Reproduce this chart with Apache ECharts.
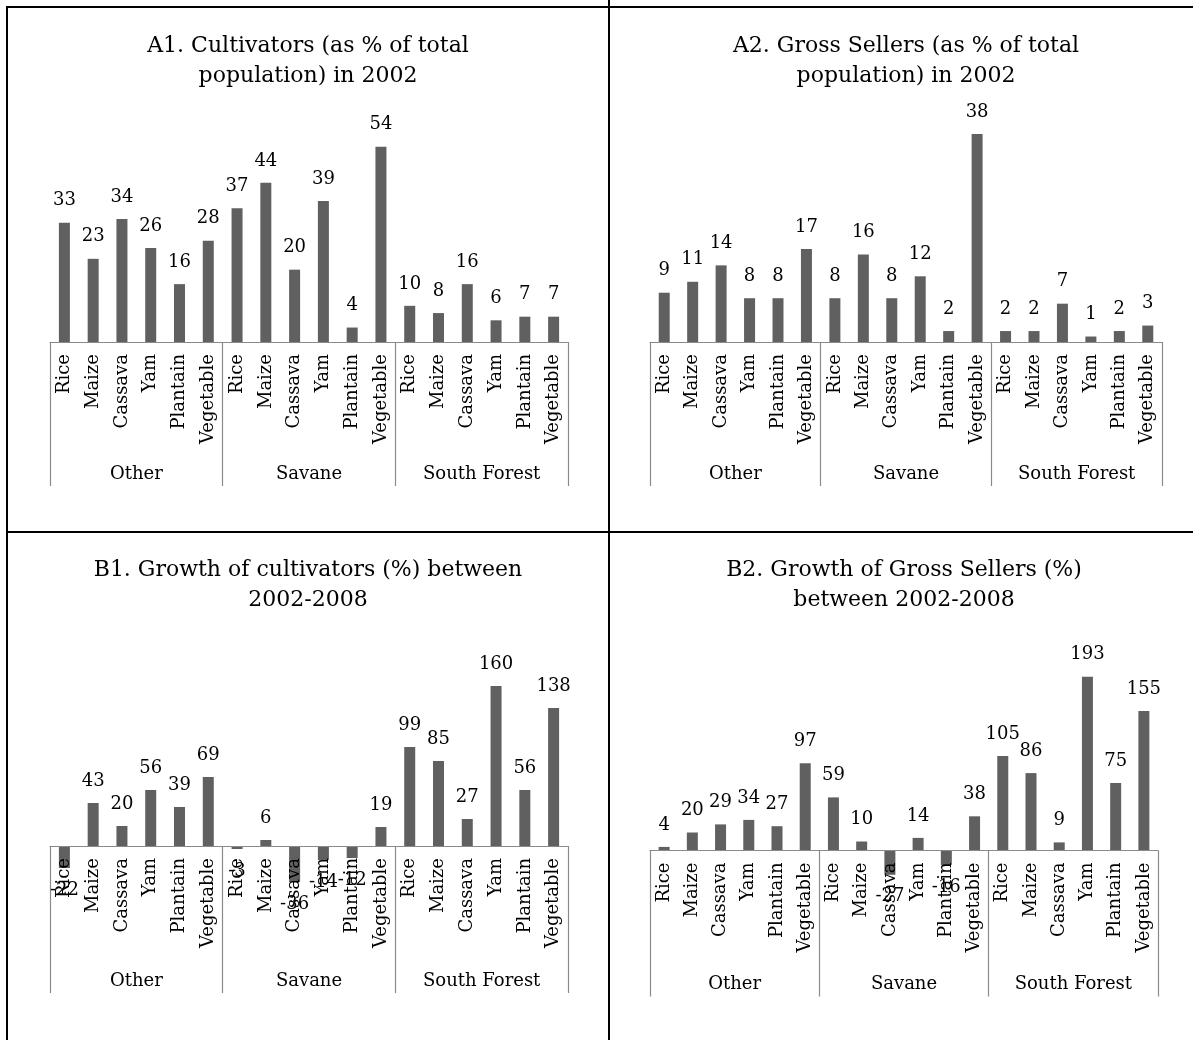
<!DOCTYPE html>
<html><head><meta charset="utf-8">
<script src="https://cdn.jsdelivr.net/npm/echarts@6/dist/echarts.min.js"></script>
<style>html,body{margin:0;padding:0;background:#fff}#c{width:1193px;height:1040px}</style>
</head><body><div id="c"></div>
<script>
// ---- data ----
const crops = ['Rice', 'Maize', 'Cassava', 'Yam', 'Plantain', 'Vegetable'];
const regions = ['Other', 'Savane', 'South Forest'];
// order: Other (6 crops), Savane (6 crops), South Forest (6 crops)
const cultivators2002 = [33, 23, 34, 26, 16, 28, 37, 44, 20, 39, 4, 54, 10, 8, 16, 6, 7, 7];
const grossSellers2002 = [9, 11, 14, 8, 8, 17, 8, 16, 8, 12, 2, 38, 2, 2, 7, 1, 2, 3];
const growthCultivators = [-22, 43, 20, 56, 39, 69, -3, 6, -36, -14, -12, 19, 99, 85, 27, 160, 56, 138];
const growthGrossSellers = [4, 20, 29, 34, 27, 97, 59, 10, -27, 14, -16, 38, 105, 86, 9, 193, 75, 155];
const titleTexts = [
  'A1. Cultivators (as % of total\npopulation) in 2002',
  'A2. Gross Sellers (as % of total\npopulation) in 2002',
  'B1. Growth of cultivators (%) between\n2002-2008',
  'B2. Growth of Gross Sellers (%)\nbetween 2002-2008'
];
const tickLabels = regions.flatMap(() => crops);

// ---- layout (styles/positions) ----
const FONT = 'DejaVu Serif';
const panels = [
  { values: cultivators2002, left: 50, width: 518, top: 125, height: 217, min: 0, max: 60, groupOffset: 144, groupTick: 144, tx: 308, ty: 31 },
  { values: grossSellers2002, left: 650, width: 512, top: 123, height: 219, min: 0, max: 40, groupOffset: 144, groupTick: 144, tx: 906, ty: 31 },
  { values: growthCultivators, left: 50, width: 518, top: 646, height: 250, min: -50, max: 200, groupOffset: 97, groupTick: 147, tx: 308, ty: 555 },
  { values: growthGrossSellers, left: 650, width: 508, top: 670.5, height: 225, min: -50, max: 200, groupOffset: 101, groupTick: 146, tx: 904, ty: 555 }
];

const grid = [], xAxis = [], yAxis = [], series = [], title = [];
panels.forEach((p, i) => {
  const zeroShift = -p.height * (0 - p.min) / (p.max - p.min);
  grid.push({ left: p.left, top: p.top, width: p.width, height: p.height, containLabel: false });
  title.push({
    text: titleTexts[i], left: p.tx, top: p.ty, textAlign: 'center', padding: 0,
    textStyle: { fontFamily: FONT, fontSize: 22, fontWeight: 'normal', color: '#000', lineHeight: 30 }
  });
  xAxis.push({
    type: 'category', gridIndex: i, data: tickLabels, z: 5, position: 'bottom', offset: zeroShift,
    axisLine: { onZero: false, lineStyle: { color: '#8a8a8a', width: 1.2 } },
    axisTick: { show: false },
    axisLabel: { interval: 0, rotate: 90, margin: 12, color: '#000', fontFamily: FONT, fontSize: 18 },
    splitLine: { show: false }
  });
  xAxis.push({
    type: 'category', gridIndex: i, data: regions, position: 'bottom', offset: p.groupOffset,
    axisLine: { show: false, onZero: false },
    axisTick: { show: true, inside: true, length: p.groupTick, lineStyle: { color: '#8a8a8a', width: 1.2 } },
    axisLabel: { inside: true, margin: 3, color: '#000', fontFamily: FONT, fontSize: 18 },
    splitLine: { show: false }
  });
  yAxis.push({ type: 'value', gridIndex: i, min: p.min, max: p.max, show: false, splitLine: { show: false } });
  series.push({
    type: 'bar', xAxisIndex: 2 * i, yAxisIndex: i, barWidth: 11,
    itemStyle: { color: '#606060' },
    label: { show: true, distance: 13, color: '#000', fontFamily: FONT, fontSize: 18 },
    data: p.values.map(v => ({ value: v, label: { position: v < 0 ? 'bottom' : 'top' } }))
  });
});

const line = (x1, y1, x2, y2) => ({ type: 'line', shape: { x1, y1, x2, y2 }, style: { stroke: '#000', lineWidth: 2 }, z: 10 });
const chart = echarts.init(document.getElementById('c'), null, { renderer: 'canvas' });
chart.setOption({
  animation: false,
  backgroundColor: '#fff',
  title, grid, xAxis, yAxis, series,
  graphic: [line(7, 7, 1193, 7), line(7, 6, 7, 1040), line(609, 0, 609, 1040), line(7, 532, 1193, 532)]
});
</script></body></html>
